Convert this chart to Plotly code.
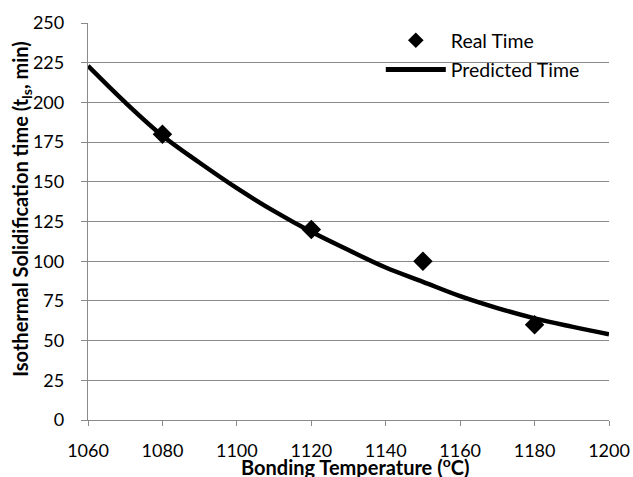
import plotly.graph_objects as go

real_temp = [1080, 1120, 1150, 1180]
real_time = [180, 120, 100, 60]

pred_temp = [1060, 1070, 1080, 1090, 1100, 1110, 1120, 1130, 1140, 1150, 1160, 1170, 1180, 1190, 1200]
pred_time = [223, 200, 179, 162, 146, 131.5, 118.5, 107, 96, 87, 78, 70.5, 64, 58.8, 54]

x_ticks = [1060, 1080, 1100, 1120, 1140, 1160, 1180, 1200]
y_ticks = [0, 25, 50, 75, 100, 125, 150, 175, 200, 225, 250]

x_title = "<b>Bonding Temperature (<sup>o</sup>C)</b>"
y_title = "<b>Isothermal Solidification time (t<sub>ls</sub>, min)</b>"

FONT = "Lato, 'Open Sans', sans-serif"
GRID = "#8a8a8a"

fig = go.Figure()
fig.add_trace(go.Scatter(
    x=real_temp, y=real_time, mode="markers", name="Real Time",
    legendgroup="a",
    marker=dict(symbol="diamond", size=15, color="black"),
))
fig.add_trace(go.Scatter(
    x=pred_temp, y=pred_time, mode="lines", name="Predicted Time",
    legendgroup="b",
    line=dict(color="black", width=4.5, shape="spline"),
))

fig.update_layout(
    width=633, height=477,
    margin=dict(l=88, r=23.5, t=23, b=57),
    paper_bgcolor="white", plot_bgcolor="white",
    font=dict(family=FONT, size=18, color="black"),
    showlegend=True,
    legend=dict(x=0.562, y=1.005, xanchor="left", yanchor="top",
                bgcolor="rgba(0,0,0,0)", font=dict(size=19.5, family=FONT),
                tracegroupgap=1, itemwidth=60, itemsizing="constant"),
    xaxis=dict(
        range=[1060, 1200], tickvals=x_ticks, ticktext=[str(v) for v in x_ticks],
        showgrid=False, zeroline=False, automargin=False,
        showline=True, linecolor=GRID, linewidth=1.3,
        ticks="outside", ticklen=5, tickcolor=GRID, tickwidth=1.3,
        ticklabelstandoff=9,
        tickfont=dict(size=18, family=FONT),
    ),
    yaxis=dict(
        range=[0, 250], tickvals=y_ticks, ticktext=[str(v) for v in y_ticks],
        showgrid=True, gridcolor=GRID, gridwidth=1.3, zeroline=False, automargin=False,
        showline=True, linecolor=GRID, linewidth=1.3,
        ticks="outside", ticklen=6, tickcolor=GRID, tickwidth=1.3,
        ticklabelstandoff=13,
        tickfont=dict(size=18, family=FONT),
    ),
    annotations=[
        dict(text=x_title, xref="paper", yref="paper", x=0.512, y=-0.077,
             xanchor="center", yanchor="top", showarrow=False,
             font=dict(size=20, family=FONT, color="black")),
        dict(text=y_title, xref="paper", yref="paper", x=-0.1266, y=0.532,
             xanchor="center", yanchor="middle", showarrow=False, textangle=-90,
             font=dict(size=20, family=FONT, color="black")),
    ],
)

fig.write_html("out.html", config={"displayModeBar": False},
               post_script="document.body.style.margin='0px';")
